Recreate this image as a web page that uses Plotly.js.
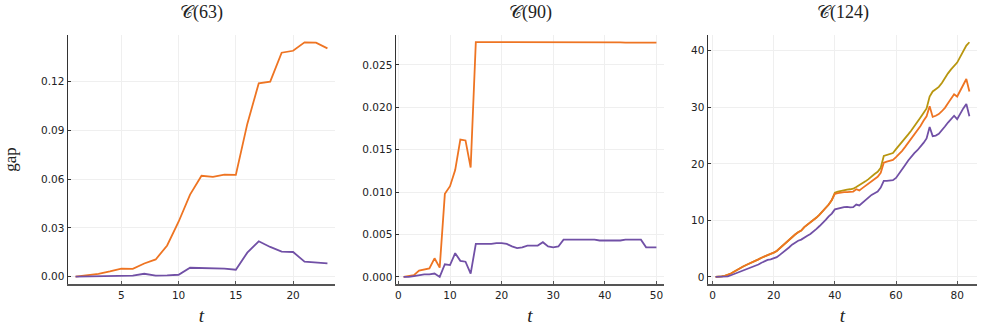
<!DOCTYPE html>
<html>
<head>
<meta charset="utf-8">
<script src="https://cdn.plot.ly/plotly-3.0.1.min.js"></script>
<style>html,body{margin:0;padding:0;background:#fff;}#chart{width:987px;height:329px;}</style>
</head>
<body>
<div id="chart"></div>
<script>
// ---- Data ----
const titles = ["𝒞(63)", "𝒞(90)", "𝒞(124)"];

const t63 = [1,2,3,4,5,6,7,8,9,10,11,12,13,14,15,16,17,18,19,20,21,22,23];
const gap63Orange = [0,0.0007,0.0017,0.0032,0.0049,0.0048,0.0081,0.0106,0.0192,0.0338,0.0505,0.0621,0.0614,0.0628,0.0626,0.0940,0.1190,0.1200,0.1378,0.1390,0.1442,0.1440,0.1405];
const gap63Purple = [0,0.0002,0.0003,0.0004,0.0006,0.0006,0.0018,0.0006,0.0008,0.0012,0.0055,0.0053,0.0053,0.0049,0.0043,0.0148,0.0218,0.0183,0.0154,0.0152,0.0092,0.0086,0.0082];

const t90 = [1,2,3,4,5,6,7,8,9,10,11,12,13,14,15,16,17,18,19,20,21,22,23,24,25,26,27,28,29,30,31,32,33,34,35,36,37,38,39,40,41,42,43,44,45,46,47,48,49,50];
const gap90Orange = [0,0.0001,0.0002,0.00075,0.00087,0.0010,0.0022,0.0011,0.0098,0.0107,0.0126,0.0162,0.0161,0.0129,0.02770,0.02770,0.02770,0.02770,0.02770,0.02770,0.02771,0.02771,0.02771,0.02771,0.02770,0.02766,0.02766,0.02766,0.02766,0.02766,0.02766,0.02766,0.02766,0.02766,0.02766,0.02766,0.02766,0.02766,0.02766,0.02766,0.02766,0.02766,0.02766,0.02762,0.02762,0.02762,0.02762,0.02762,0.02762,0.02762];
const gap90Purple = [0,0,0.0001,0.0002,0.0003,0.0003,0.0004,0.0000,0.0015,0.0014,0.0028,0.0019,0.0018,0.0004,0.0039,0.0039,0.0039,0.0039,0.0040,0.0040,0.0039,0.0036,0.0034,0.0035,0.0037,0.0037,0.0037,0.0041,0.0036,0.0035,0.0036,0.0044,0.0044,0.0044,0.0044,0.0044,0.0044,0.0044,0.0043,0.0043,0.0043,0.0043,0.0043,0.0044,0.0044,0.0044,0.0044,0.0035,0.0035,0.0035];

const t124 = [];
for (let i = 1; i <= 84; i++) t124.push(i);
const gap124Gold = [0,0.02,0.1,0.2,0.35,0.6,0.9,1.25,1.6,1.85,2.1,2.35,2.5,2.8,3.1,3.4,3.6,3.8,4.0,4.3,4.6,5.1,5.6,6.1,6.5,7.0,7.5,7.9,8.2,8.8,9.2,9.7,10.1,10.5,11.0,11.6,12.1,12.8,13.6,14.9,15.1,15.25,15.4,15.45,15.5,15.6,15.9,16.2,16.5,16.9,17.3,17.8,18.2,18.6,19.3,21.4,21.6,21.7,21.9,22.6,23.2,23.8,24.5,25.2,25.9,26.6,27.3,28.2,29.0,29.8,31.9,32.8,33.2,33.6,34.3,35.2,36.0,36.7,37.3,37.9,38.9,39.8,40.9,41.5];
const gap124Orange = [0,0.02,0.1,0.2,0.35,0.6,0.9,1.25,1.6,1.85,2.1,2.35,2.5,2.8,3.1,3.4,3.6,3.8,4.0,4.3,4.6,5.1,5.6,6.1,6.5,7.0,7.5,7.9,8.2,8.8,9.2,9.7,10.1,10.5,11.0,11.6,12.1,12.8,13.6,14.7,14.8,14.95,15.0,15.0,15.0,15.1,15.5,15.3,15.7,16.1,16.5,16.9,17.3,17.7,18.4,20.2,20.4,20.5,20.7,21.2,21.7,22.3,23.0,23.7,24.4,25.1,25.9,26.7,27.6,28.4,30.2,28.3,28.5,28.8,29.3,29.9,30.7,31.5,32.3,31.9,32.9,33.9,35.0,32.8];
const gap124Purple = [0,0,0,0.05,0.1,0.3,0.5,0.75,1.0,1.2,1.4,1.6,1.8,2.0,2.2,2.5,2.8,3.0,3.1,3.3,3.5,3.9,4.3,4.7,5.2,5.7,6.1,6.4,6.6,7.0,7.3,7.6,8.0,8.5,9.0,9.5,10.1,10.7,11.2,11.95,12.1,12.2,12.35,12.4,12.3,12.35,12.8,12.65,13.1,13.7,14.1,14.5,14.8,15.1,15.8,17.0,17.0,17.0,17.1,17.5,18.2,18.9,19.8,20.6,21.3,21.9,22.4,23.0,23.7,24.5,26.5,24.9,25.0,25.3,25.9,26.6,27.3,28.0,28.5,27.9,28.9,29.8,30.6,28.4];

const xTicks63 = [5,10,15,20];
const yTicks63 = [0,0.03,0.06,0.09,0.12];
const yTickText63 = ["0.00","0.03","0.06","0.09","0.12"];
const xTicks90 = [0,10,20,30,40,50];
const yTicks90 = [0,0.005,0.01,0.015,0.02,0.025];
const yTickText90 = ["0.000","0.005","0.010","0.015","0.020","0.025"];
const xTicks124 = [0,20,40,60,80];
const yTicks124 = [0,10,20,30,40];

// ---- Styles ----
const ORANGE = "#EE7422", PURPLE = "#7150A6", GOLD = "#B8960F";
const LW = 1.8;
function line(x, y, color, xa, ya) {
  return {x: x, y: y, type: "scatter", mode: "lines", line: {color: color, width: LW}, xaxis: xa, yaxis: ya, showlegend: false, hoverinfo: "skip"};
}

const data = [
  line(t63, gap63Orange, ORANGE, "x", "y"),
  line(t63, gap63Purple, PURPLE, "x", "y"),
  line(t90, gap90Orange, ORANGE, "x2", "y2"),
  line(t90, gap90Purple, PURPLE, "x2", "y2"),
  line(t124, gap124Gold, GOLD, "x3", "y3"),
  line(t124, gap124Orange, ORANGE, "x3", "y3"),
  line(t124, gap124Purple, PURPLE, "x3", "y3")
];

const tickFont = {family: "DejaVu Sans, sans-serif", size: 10.5, color: "#222"};
function xax(domain, range, tickvals, anchor) {
  return {domain: domain, range: range, tickvals: tickvals, anchor: anchor,
    showgrid: true, gridcolor: "#efefef", gridwidth: 1, zeroline: false,
    showline: true, linecolor: "#555", linewidth: 2, mirror: false,
    ticks: "inside", ticklen: 3, tickcolor: "#555", tickfont: tickFont,
    title: {text: "<i>t</i>", font: {family: "Liberation Serif, serif", size: 19, color: "#222"}, standoff: 9}};
}
function yax(domain, range, tickvals, ticktext, anchor) {
  const o = {domain: domain, range: range, tickvals: tickvals, anchor: anchor,
    showgrid: true, gridcolor: "#efefef", gridwidth: 1, zeroline: false,
    showline: true, linecolor: "#333", linewidth: 1.5, mirror: false,
    ticks: "inside", ticklen: 3, tickcolor: "#333", tickfont: tickFont};
  if (ticktext) o.ticktext = ticktext;
  return o;
}
const ydom = [1 - 284/329, 1 - 35/329];
const d1 = [68/987, 335/987], d2 = [396/987, 664/987], d3 = [708/987, 977/987];

const layout = {
  width: 987, height: 329,
  margin: {l: 0, r: 0, t: 0, b: 0},
  paper_bgcolor: "#fff", plot_bgcolor: "#fff",
  xaxis: xax(d1, [0.34, 23.66], xTicks63, "y"),
  yaxis: Object.assign(yax(ydom, [-0.0045, 0.1487], yTicks63, yTickText63, "x"),
    {title: {text: "gap", font: {family: "Liberation Serif, serif", size: 17, color: "#222"}, standoff: 20}}),
  xaxis2: xax(d2, [-0.47, 51.47], xTicks90, "y2"),
  yaxis2: yax(ydom, [-0.00083, 0.02853], yTicks90, yTickText90, "x2"),
  xaxis3: xax(d3, [-1.49, 86.49], xTicks124, "y3"),
  yaxis3: yax(ydom, [-1.25, 42.78], yTicks124, null, "x3"),
  annotations: titles.map((txt, i) => ({
    text: txt, xref: "paper", yref: "paper",
    x: [(d1[0]+d1[1])/2, (d2[0]+d2[1])/2, (d3[0]+d3[1])/2][i],
    y: 1 - 12/329, xanchor: "center", yanchor: "middle", showarrow: false,
    font: {family: "Liberation Serif, DejaVu Serif, serif", size: 18, color: "#222"}
  }))
};

Plotly.newPlot("chart", data, layout, {staticPlot: true, displayModeBar: false});
</script>
</body>
</html>
